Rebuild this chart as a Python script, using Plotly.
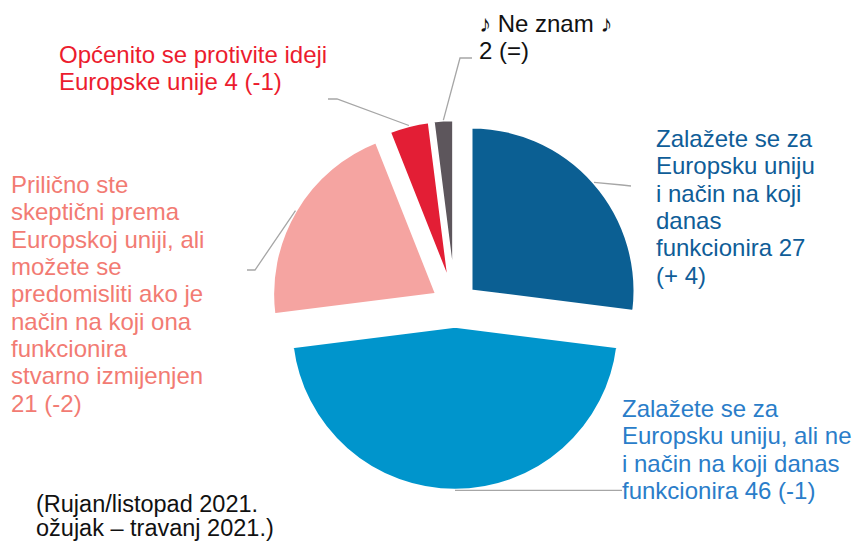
import math
import plotly.graph_objects as go

# ---------------- data ----------------
categories = [
    "Zalažete se za Europsku uniju i način na koji danas funkcionira",
    "Zalažete se za Europsku uniju, ali ne i način na koji danas funkcionira",
    "Prilično ste skeptični prema Europskoj uniji, ali možete se predomisliti ako je način na koji ona funkcionira stvarno izmijenjen",
    "Općenito se protivite ideji Europske unije",
    "♪ Ne znam ♪",
]
values = [27, 46, 21, 4, 2]
changes = ["+ 4", "-1", "-2", "-1", "="]
label_lines = [
    ["Zalažete se za", "Europsku uniju", "i način na koji", "danas", "funkcionira {v}", "({c})"],
    ["Zalažete se za", "Europsku uniju, ali ne", "i način na koji danas", "funkcionira {v} ({c})"],
    ["Prilično ste", "skeptični prema", "Europskoj uniji, ali", "možete se", "predomisliti ako je",
     "način na koji ona", "funkcionira", "stvarno izmijenjen", "{v} ({c})"],
    ["Općenito se protivite ideji", "Europske unije {v} ({c})"],
    ["♪ Ne znam ♪", "{v} ({c})"],
]
footnote_lines = ["(Rujan/listopad 2021.", "ožujak – travanj 2021.)"]

# ---------------- styling / layout ----------------
W, H = 854, 542
slice_colors = ["#0b5f93", "#0095cc", "#f5a4a1", "#e31e35", "#5d565c"]
text_colors = ["#0f5d98", "#2a7dc9", "#f27b73", "#ec1c2e", "#111111"]
FONT = "Liberation Sans, Arial, sans-serif"
FS = 24
PITCH = 27.3

CX, CY = 455, 305          # pie centre (px)
R = 164                    # pie radius (px)
PULL = 0.13                # pull fraction of radius
half_box = R * (1 + PULL)

label_left = [654, 620, 9, 57, 477]          # px
label_first_base = [147, 417, 193, 63, 32]   # px (baseline of first line)
leader_knees = [
    [(622, 185), (631, 186)],
    [(622, None)],
    [(255, 270), (247, 270)],
    [(337, 99), (328, 99)],
    [(460, 58), (472, 58)],
]


def px(x):
    return x / W


def py(y):
    return 1 - y / H


fig = go.Figure(go.Pie(
    labels=categories,
    values=values,
    sort=False,
    direction="clockwise",
    rotation=0,
    pull=[PULL] * len(values),
    marker=dict(colors=slice_colors, line=dict(color="white", width=3)),
    textinfo="none",
    hoverinfo="label+value",
    domain=dict(x=[px(CX - half_box), px(CX + half_box)],
                y=[py(CY + half_box), py(CY - half_box)]),
))

annotations = []
shapes = []


def add_lines(lines, left, first_base, pitch, color, size):
    for i, t in enumerate(lines):
        base = first_base + i * pitch
        mid = base - 0.35 * size
        annotations.append(dict(
            text=t, x=px(left), y=py(mid), xref="paper", yref="paper",
            xanchor="left", yanchor="middle", showarrow=False, align="left",
            font=dict(family=FONT, size=size, color=color),
        ))


total = sum(values)
cum = 0
for i, v in enumerate(values):
    mid_ang = (cum + v / 2) / total * 2 * math.pi
    cum += v
    lines = [s.format(v=v, c=changes[i]) for s in label_lines[i]]
    add_lines(lines, label_left[i], label_first_base[i], PITCH, text_colors[i], FS)
    # leader line from the outer arc at the slice's mid angle
    dist = R * (1 + PULL)
    sx = CX + dist * math.sin(mid_ang)
    sy = CY - dist * math.cos(mid_ang)
    pts = [(sx, sy)] + [(kx, sy if ky is None else ky) for kx, ky in leader_knees[i]]
    path = "M " + " L ".join(f"{px(a):.5f},{py(b):.5f}" for a, b in pts)
    shapes.append(dict(type="path", path=path, xref="paper", yref="paper",
                       line=dict(color="#a6a6a6", width=1.3)))

add_lines(footnote_lines, 34, 512, 24, "#111111", 23.5)

fig.update_layout(
    width=W, height=H,
    margin=dict(l=0, r=0, t=0, b=0),
    paper_bgcolor="white",
    plot_bgcolor="white",
    showlegend=False,
    annotations=annotations,
    shapes=shapes,
)

fig.write_html(
    "out.html",
    config={"displayModeBar": False},
    post_script="document.body.style.margin='0';document.body.style.overflow='hidden';",
)
